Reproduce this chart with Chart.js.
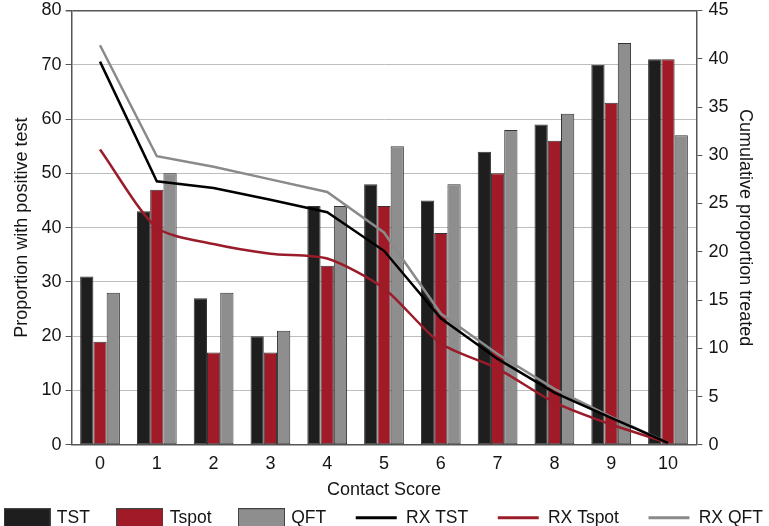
<!DOCTYPE html>
<html>
<head>
<meta charset="utf-8">
<script src="https://cdn.jsdelivr.net/npm/chart.js@4.4.0/dist/chart.umd.min.js"></script>
<style>
    html, body { margin: 0; padding: 0; background: #fff; }
    #wrap { width: 769px; height: 526px; }
</style>
</head>
<body>
<div id="wrap"><canvas id="chart"></canvas></div>
<script>
// Contact score categories
const contactScores = ['0', '1', '2', '3', '4', '5', '6', '7', '8', '9', '10'];

// Proportion with positive test (left axis)
const tstPositive = [31, 43, 27, 20, 44, 48, 45, 54, 59, 70, 71];
const tspotPositive = [19, 47, 17, 17, 33, 44, 39, 50, 56, 63, 71];
const qftPositive = [28, 50, 28, 21, 44, 55, 48, 58, 61, 74, 57];

// Cumulative proportion treated (right axis)
const rxTst = [39.7, 27.3, 26.6, 25.4, 24.1, 20.1, 13.1, 8.9, 5.4, 2.8, 0.2];
const rxTspot = [30.6, 22.5, 20.8, 19.8, 19.3, 16.2, 10.5, 7.9, 4.4, 2.1, 0.2];
const rxQft = [41.4, 29.9, 28.8, 27.5, 26.2, 22.0, 13.6, 9.4, 5.8, 2.9, 0.2];

const FONT = "'Liberation Sans', Arial, sans-serif";
const TEXT = '#151515';
const AXIS = '#555';

const colors = {
    tst: '#1e1e1e',
    tspot: '#a11a28',
    qft: '#8e8e8e',
    rxTst: '#000000',
    rxTspot: '#9a1c2a',
    rxQft: '#8a8a8a'
};

// Legend icons: filled boxes for bars, short strokes for lines
function boxIcon(fill) {
    const c = document.createElement('canvas');
    c.width = 47; c.height = 19;
    const g = c.getContext('2d');
    g.fillStyle = fill;
    g.fillRect(0, 0, 47, 19);
    g.strokeStyle = '#444';
    g.lineWidth = 1;
    g.strokeRect(0.5, 0.5, 46, 18);
    return c;
}
function lineIcon(color) {
    const c = document.createElement('canvas');
    c.width = 47; c.height = 19;
    const g = c.getContext('2d');
    g.strokeStyle = color;
    g.lineWidth = 3;
    g.beginPath();
    g.moveTo(3, 9.5);
    g.lineTo(44, 9.5);
    g.stroke();
    return c;
}
const legendIcons = [
    boxIcon(colors.tst), boxIcon(colors.tspot), boxIcon(colors.qft),
    lineIcon(colors.rxTst), lineIcon(colors.rxTspot), lineIcon(colors.rxQft)
];

const barStyle = { borderColor: '#333', borderWidth: 1, borderSkipped: false, order: 2, yAxisID: 'y' };
const lineStyle = { type: 'line', borderWidth: 2.5, pointRadius: 0, fill: false, order: 1, yAxisID: 'y1' };

new Chart(document.getElementById('chart').getContext('2d'), {
    type: 'bar',
    data: {
        labels: contactScores,
        datasets: [
            { ...barStyle, label: 'TST', data: tstPositive, backgroundColor: colors.tst },
            { ...barStyle, label: 'Tspot', data: tspotPositive, backgroundColor: colors.tspot },
            { ...barStyle, label: 'QFT', data: qftPositive, backgroundColor: colors.qft },
            { ...lineStyle, label: 'RX TST', data: rxTst, borderColor: colors.rxTst, tension: 0 },
            { ...lineStyle, label: 'RX Tspot', data: rxTspot, borderColor: colors.rxTspot, tension: 0.25 },
            { ...lineStyle, label: 'RX QFT', data: rxQft, borderColor: colors.rxQft, tension: 0 }
        ]
    },
    options: {
        responsive: true,
        maintainAspectRatio: false,
        animation: false,
        // negative sides give the one-row legend a little more room
        layout: { padding: { top: -6, left: -25, right: -25, bottom: -10.5 } },
        datasets: {
            bar: { categoryPercentage: 0.7, barPercentage: 1.0 }
        },
        plugins: {
            tooltip: { enabled: false },
            legend: {
                position: 'bottom',
                labels: {
                    usePointStyle: true,
                    pointStyleWidth: 42,
                    boxHeight: 19,
                    padding: 29,
                    color: TEXT,
                    font: { family: FONT, size: 17.5 },
                    sort: (a, b) => a.datasetIndex - b.datasetIndex,
                    generateLabels: chart => {
                        const items = Chart.defaults.plugins.legend.labels.generateLabels(chart);
                        items.forEach(it => { it.pointStyle = legendIcons[it.datasetIndex]; });
                        return items;
                    }
                }
            }
        },
        scales: {
            x: {
                grid: { display: false, drawTicks: false, tickLength: 0 },
                border: { color: AXIS, width: 1.5 },
                ticks: { color: TEXT, font: { family: FONT, size: 18 }, padding: 8 },
                title: { display: true, text: 'Contact Score', color: TEXT, font: { family: FONT, size: 18 }, padding: { top: -3, bottom: -21 } }
            },
            y: {
                min: 0,
                max: 80,
                ticks: { stepSize: 10, color: TEXT, font: { family: FONT, size: 18, lineHeight: 0.5 }, padding: 4 },
                grid: {
                    color: ctx => (ctx.tick && ctx.tick.value === 80 ? AXIS : '#bdbdbd'),
                    lineWidth: ctx => (ctx.tick && ctx.tick.value === 80 ? 1.5 : 1),
                    tickColor: AXIS,
                    tickLength: 6
                },
                border: { color: AXIS, width: 1.5 },
                title: { display: true, text: 'Proportion with positive test', color: TEXT, font: { family: FONT, size: 18 }, padding: { top: 36, bottom: 5 } }
            },
            y1: {
                position: 'right',
                min: 0,
                max: 45,
                ticks: { stepSize: 5, color: TEXT, font: { family: FONT, size: 18, lineHeight: 0.5 }, padding: 6 },
                grid: { drawOnChartArea: false, tickColor: AXIS, tickLength: 6 },
                border: { color: AXIS, width: 1.5 },
                title: { display: true, text: 'Cumulative proportion treated', color: TEXT, font: { family: FONT, size: 18 }, padding: { top: 38, bottom: 0 } }
            }
        }
    }
});
</script>
</body>
</html>
